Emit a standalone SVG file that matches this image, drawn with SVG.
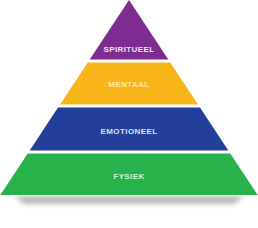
<svg xmlns="http://www.w3.org/2000/svg" width="258" height="228" viewBox="0 0 258 228">
<style>
.lbl{font-family:"Liberation Sans",Arial,sans-serif;font-weight:bold;font-size:8px;letter-spacing:0.4px;text-anchor:middle}
</style>
<defs>
<filter id="blur" x="-20%" y="-100%" width="140%" height="300%"><feGaussianBlur stdDeviation="2.5"/></filter>
</defs>
<rect width="258" height="228" fill="#ffffff"/>
<polygon points="14,196 244,196 234,204 24,204" fill="#9a9a9a" opacity="0.7" filter="url(#blur)"/>
<g id="spiritueel">
<polygon points="129,0 89.7,59.5 168.3,59.5" fill="#7d2c8f"/>
<text class="lbl" x="129" y="52" fill="#f2e4f4">SPIRITUEEL</text>
</g>
<g id="mentaal">
<polygon points="87.8,62.5 170.2,62.5 198,104.5 60,104.5" fill="#f8b51a"/>
<text class="lbl" x="129" y="87.3" fill="#fde9a6">MENTAAL</text>
</g>
<g id="emotioneel">
<polygon points="58,107.5 200,107.5 228.3,150.5 29.7,150.5" fill="#22409a"/>
<text class="lbl" x="129" y="133.7" fill="#d9e1f2">EMOTIONEEL</text>
</g>
<g id="fysiek">
<polygon points="27.7,153.5 230.3,153.5 257.7,195 0.3,195" fill="#27b24b"/>
<text class="lbl" x="129" y="178.7" fill="#d8f2d6">FYSIEK</text>
</g>
<g id="connectors"/>
</svg>
